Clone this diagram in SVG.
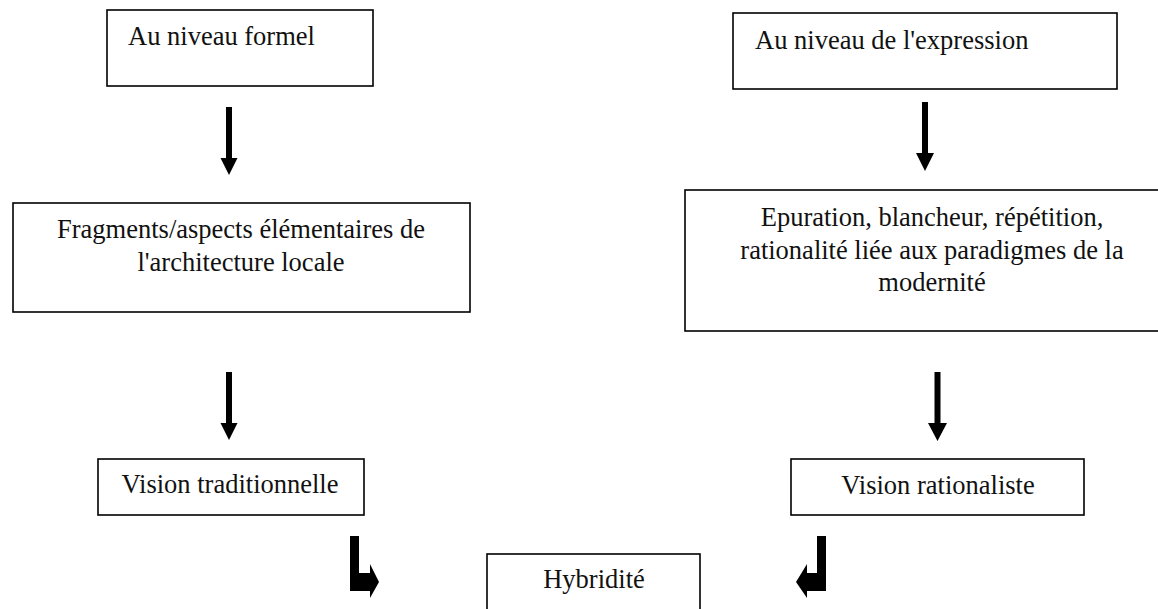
<svg xmlns="http://www.w3.org/2000/svg" width="1158" height="609" viewBox="0 0 1158 609">
<style>
.box{fill:#fff;stroke:#000;stroke-width:1.6}
.t{font-family:"Liberation Serif",serif;font-size:26.5px;fill:#111}
.c{text-anchor:middle}
.arr{fill:#000;stroke:none}
</style>
<rect width="1158" height="609" fill="#fff"/>
<g id="n1"><rect class="box" x="107" y="10" width="266" height="76"/><text class="t" x="128" y="45">Au niveau formel</text></g>
<g id="n2"><rect class="box" x="733" y="13" width="384" height="76"/><text class="t" x="755" y="49">Au niveau de l'expression</text></g>
<g id="n3"><rect class="box" x="13" y="203" width="457" height="109"/><text class="t c" x="241" y="238">Fragments/aspects élémentaires de</text><text class="t c" x="241" y="271">l'architecture locale</text></g>
<g id="n4"><rect class="box" x="685" y="190" width="500" height="141"/><text class="t c" x="932" y="226">Epuration, blancheur, répétition,</text><text class="t c" x="932" y="259">rationalité liée aux paradigmes de la</text><text class="t c" x="932" y="291">modernité</text></g>
<g id="n5"><rect class="box" x="98" y="459" width="266" height="56"/><text class="t c" x="230" y="493">Vision traditionnelle</text></g>
<g id="n6"><rect class="box" x="791" y="459" width="293" height="56"/><text class="t c" x="938" y="494">Vision rationaliste</text></g>
<g id="n7"><rect class="box" x="487" y="554" width="213" height="70"/><text class="t c" x="594" y="588">Hybridité</text></g>
<g id="connectors">
<path class="arr" d="M226 107H232V158H237.5L229 175L220.5 158H226Z"/>
<path class="arr" d="M226 372H232V423H237.5L229 440L220.5 423H226Z"/>
<path class="arr" d="M922 102H928V153H934L925 171L916 153H922Z"/>
<path class="arr" d="M934.5 372H940.5V423H947L937.5 441L928 423H934.5Z"/>
<path class="arr" d="M350 536H359V573H370V564L379 582L370 598V591H350Z"/>
<path class="arr" d="M826 536H817V573H807V564L796 582L807 598V591H826Z"/>
</g>
</svg>
